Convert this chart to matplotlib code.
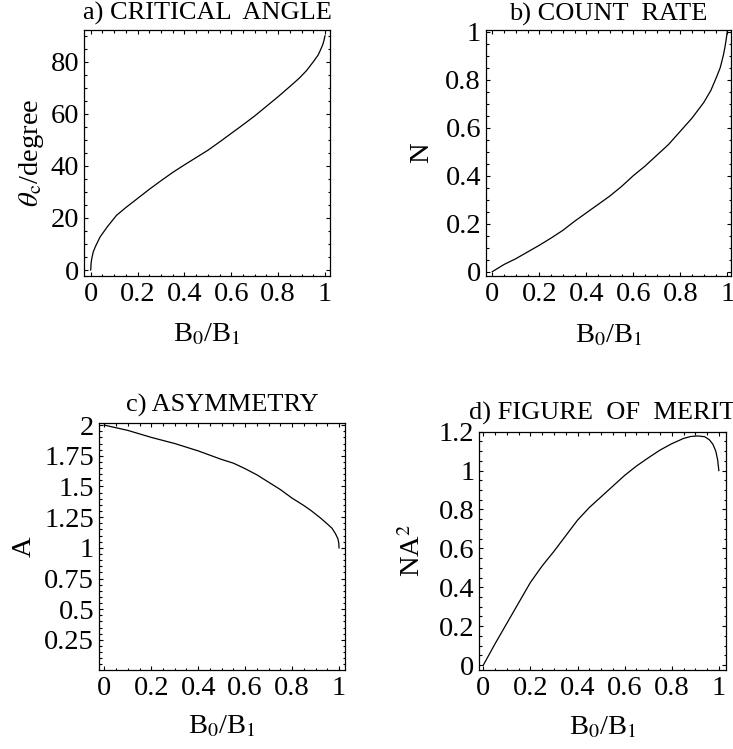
import matplotlib
matplotlib.use("Agg")
import matplotlib.pyplot as plt
from matplotlib.ticker import MultipleLocator

plt.rcParams['font.family'] = ['Liberation Serif', 'DejaVu Serif']
plt.rcParams['mathtext.fontset'] = 'stix'
plt.rcParams['font.size'] = 20.5

# x axis is the same for all four panels
x_ticks = [0, 0.2, 0.4, 0.6, 0.8, 1.0]
x_ticklabels = ['0', '0.2', '0.4', '0.6', '0.8', '1']

# a) critical angle (read off the picture)
x_a = [0, 0.002, 0.006, 0.011, 0.02, 0.04, 0.07, 0.11, 0.15, 0.2, 0.25, 0.3,
       0.35, 0.4, 0.45, 0.5, 0.55, 0.6, 0.65, 0.7, 0.75, 0.8, 0.85, 0.89,
       0.92, 0.95, 0.97, 0.98, 0.99, 0.995, 1.0]
theta_c = [0, 3, 5, 7, 9, 12.7, 16.5, 21, 24, 27.5, 31, 34.3, 37.5, 40.4, 43.2,
           46, 49.2, 52.5, 55.8, 59.2, 62.9, 66.6, 70.5, 73.7, 76.5, 80, 82.5,
           84.4, 86.5, 88, 90]
a_yticks = [0, 20, 40, 60, 80]
a_yticklabels = ['0', '20', '40', '60', '80']

# b) count rate
x_b = [0, 0.05, 0.1, 0.15, 0.2, 0.25, 0.3, 0.35, 0.4, 0.45, 0.5, 0.55, 0.6,
       0.65, 0.7, 0.75, 0.8, 0.85, 0.9, 0.93, 0.955, 0.97, 0.983, 0.99,
       0.995, 1.0]
count_rate = [0, 0.03, 0.054, 0.082, 0.11, 0.14, 0.172, 0.21, 0.245, 0.28,
              0.315, 0.355, 0.40, 0.44, 0.485, 0.53, 0.585, 0.64, 0.705, 0.755,
              0.8125, 0.85, 0.90, 0.935, 0.965, 1.0]
b_yticks = [0, 0.2, 0.4, 0.6, 0.8, 1.0]
b_yticklabels = ['0', '0.2', '0.4', '0.6', '0.8', '1']

# c) asymmetry
x_c = [0, 0.1, 0.2, 0.3, 0.4, 0.5, 0.55, 0.6, 0.65, 0.7, 0.75, 0.8, 0.85,
       0.88, 0.92, 0.95, 0.97, 0.985, 0.995, 0.999, 1.0]
asym = [2.0, 1.957, 1.9, 1.85, 1.79, 1.72, 1.69, 1.645, 1.595, 1.535, 1.475,
        1.405, 1.345, 1.305, 1.245, 1.195, 1.16, 1.115, 1.075, 1.04, 1.0]
c_yticks = [0.25, 0.5, 0.75, 1.0, 1.25, 1.5, 1.75, 2.0]
c_yticklabels = ['0.25', '0.5', '0.75', '1', '1.25', '1.5', '1.75', '2']

# d) figure of merit N*A^2
x_d = [0, 0.05, 0.1, 0.15, 0.2, 0.25, 0.3, 0.35, 0.4, 0.45, 0.5, 0.55, 0.6,
       0.65, 0.7, 0.75, 0.8, 0.85, 0.88, 0.91, 0.94, 0.96, 0.975, 0.987,
       0.995, 1.0]
merit = [0, 0.11, 0.215, 0.32, 0.425, 0.51, 0.585, 0.665, 0.745, 0.81, 0.865,
         0.92, 0.975, 1.023, 1.065, 1.105, 1.138, 1.165, 1.175, 1.178, 1.174,
         1.158, 1.135, 1.10, 1.055, 1.0]
d_yticks = [0, 0.2, 0.4, 0.6, 0.8, 1.0, 1.2]
d_yticklabels = ['0', '0.2', '0.4', '0.6', '0.8', '1', '1.2']

fig = plt.figure(figsize=(7.33, 7.49), dpi=100)

# panel boxes in figure fractions, plus limits / label spots for each
panels = [
    dict(rect=[0.1146, 0.6315, 0.3356, 0.3284], x=x_a, y=theta_c,
         xlim=(-0.0286, 1.0213), ylim=(-2.3, 92.2), yt=a_yticks,
         ytl=a_yticklabels, ymin=5, title='a) CRITICAL  ANGLE',
         ylabel=r'$\theta_{\rm c}$/degree', ylx=-0.215, xly=-0.24, tpad=7.2),
    dict(rect=[0.6630, 0.6315, 0.3342, 0.3284], x=x_b, y=count_rate,
         xlim=(-0.0268, 1.0157), ylim=(-0.018, 1.007), yt=b_yticks,
         ytl=b_yticklabels, ymin=0.05, title='b) COUNT  RATE',
         ylabel='N', ylx=-0.262, xly=-0.244, tpad=6.7),
    dict(rect=[0.1351, 0.1055, 0.3356, 0.3302], x=x_c, y=asym,
         xlim=(-0.0226, 1.0256), ylim=(0.005, 2.02), yt=c_yticks,
         ytl=c_yticklabels, ymin=0.05, title='c) ASYMMETRY',
         ylabel='A', ylx=-0.305, xly=-0.23, tpad=8),
    dict(rect=[0.6539, 0.1055, 0.3366, 0.3182], x=x_d, y=merit,
         xlim=(-0.017, 1.0306), ylim=(-0.025, 1.2), yt=d_yticks,
         ytl=d_yticklabels, ymin=0.05, title='d) FIGURE  OF  MERIT',
         ylabel=r'NA$^2$', ylx=-0.269, xly=-0.243, tpad=8.4),
]

for p in panels:
    ax = fig.add_axes(p['rect'])
    ax.plot(p['x'], p['y'], color='black', lw=0.9)
    ax.set_xlim(p['xlim'])
    ax.set_ylim(p['ylim'])

    ax.set_xticks(x_ticks)
    ax.set_xticklabels(x_ticklabels)
    ax.set_yticks(p['yt'])
    ax.set_yticklabels(p['ytl'])
    ax.xaxis.set_minor_locator(MultipleLocator(0.05))
    ax.yaxis.set_minor_locator(MultipleLocator(p['ymin']))

    ax.tick_params(which='both', direction='in', top=True, right=True,
                   width=0.8, color='black')
    ax.tick_params(which='major', length=3.2)
    ax.tick_params(which='minor', length=1.8)
    ax.tick_params(axis='x', pad=4)
    ax.tick_params(axis='y', pad=3.5)

    for s in ax.spines.values():
        s.set_linewidth(0.9)

    # titles are a bit smaller than the tick labels in the original
    ax.set_title(p['title'], pad=p['tpad'], fontsize=19)
    ax.set_xlabel(r'B$_0$/B$_1$', va='center')
    ax.xaxis.set_label_coords(0.5, p['xly'])
    ax.set_ylabel(p['ylabel'], va='center')
    ax.yaxis.set_label_coords(p['ylx'], 0.5)

fig.savefig('out.png', dpi=100)
